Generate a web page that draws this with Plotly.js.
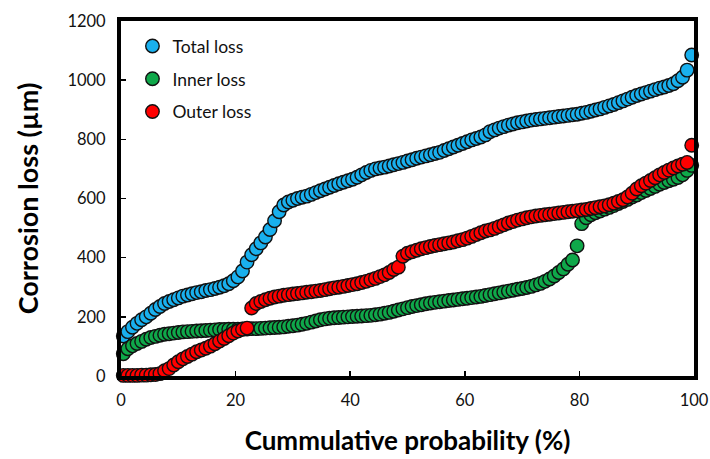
<!DOCTYPE html>
<html>
<head>
<meta charset="utf-8">
<script src="https://cdn.plot.ly/plotly-3.0.1.min.js"></script>
<style>
  html, body { margin: 0; padding: 0; background: #fff; }
  #chart { width: 710px; height: 459px; }
</style>
</head>
<body>
<div id="chart"></div>
<script>
// Cumulative probability (%) of each ranked measurement
const probability = [
  0.4, 1.2, 2.0, 2.8, 3.6, 4.4, 5.2, 6.0, 6.8, 7.6,
  8.4, 9.2, 10.0, 10.8, 11.6, 12.4, 13.2, 14.0, 14.8, 15.6,
  16.4, 17.2, 18.0, 18.8, 19.6, 20.4, 21.2, 22.0, 22.8, 23.6,
  24.4, 25.2, 26.0, 26.8, 27.6, 28.4, 29.2, 30.0, 30.8, 31.6,
  32.4, 33.2, 34.0, 34.8, 35.6, 36.4, 37.2, 38.0, 38.8, 39.6,
  40.4, 41.2, 42.0, 42.8, 43.6, 44.4, 45.2, 46.0, 46.8, 47.6,
  48.4, 49.2, 50.0, 50.8, 51.6, 52.4, 53.2, 54.0, 54.8, 55.6,
  56.4, 57.2, 58.0, 58.8, 59.6, 60.4, 61.2, 62.0, 62.8, 63.6,
  64.4, 65.2, 66.0, 66.8, 67.6, 68.4, 69.2, 70.0, 70.8, 71.6,
  72.4, 73.2, 74.0, 74.8, 75.6, 76.4, 77.2, 78.0, 78.8, 79.6,
  80.4, 81.2, 82.0, 82.8, 83.6, 84.4, 85.2, 86.0, 86.8, 87.6,
  88.4, 89.2, 90.0, 90.8, 91.6, 92.4, 93.2, 94.0, 94.8, 95.6,
  96.4, 97.2, 98.0, 98.8, 99.6
];

// Corrosion loss (µm), sorted ascending
const totalLoss = [
  135, 150, 165, 178, 190, 200, 212, 225, 235, 245,
  252, 258, 264, 270, 274, 278, 282, 285, 289, 292,
  296, 300, 305, 312, 322, 335, 355, 385, 410, 430,
  450, 470, 495, 525, 555, 578, 588, 594, 600, 604,
  608, 614, 620, 626, 632, 638, 644, 650, 655, 660,
  665, 672, 680, 688, 695, 700, 703, 706, 710, 714,
  718, 722, 727, 731, 736, 740, 744, 748, 752, 756,
  762, 768, 774, 780, 786, 792, 798, 803, 808, 815,
  826, 832, 838, 843, 848, 852, 856, 859, 862, 865,
  867, 869, 871, 873, 875, 877, 879, 881, 883, 885,
  888, 891, 895, 899, 903, 908, 913, 918, 924, 930,
  936, 942, 948, 953, 958, 963, 968, 973, 977, 982,
  988, 998, 1010, 1034, 1085
];

const innerLoss = [
  75, 92, 102, 110, 117, 124, 130, 134, 138, 141,
  143, 145, 147, 149, 150, 151, 152, 153, 154, 155,
  156, 157, 157, 158, 158, 158, 159, 159, 160, 160,
  161, 162, 163, 164, 165, 166, 168, 170, 172, 175,
  178, 182, 186, 190, 193, 195, 197, 198, 199, 200,
  201, 202, 203, 204, 205, 207, 209, 212, 215, 219,
  223, 227, 231, 235, 238, 241, 244, 247, 249, 251,
  253, 255, 257, 259, 261, 263, 265, 267, 269, 272,
  275, 278, 281, 284, 287, 290, 293, 296, 299, 303,
  308, 313, 320, 328, 338, 350, 362, 378, 392, 440,
  515, 535, 545, 552, 558, 564, 570, 576, 583, 590,
  597, 605, 612, 620, 627, 634, 641, 648, 654, 660,
  665, 671, 680, 695, 712
];

const outerLoss = [
  2, 2, 2, 2, 3, 3, 4, 5, 8, 18,
  25, 37, 48, 58, 66, 74, 82, 88, 94, 101,
  109, 118, 127, 136, 145, 152, 158, 162, 230, 245,
  252, 258, 263, 267, 270, 273, 275, 277, 279, 281,
  283, 285, 287, 289, 292, 295, 298, 300, 303, 306,
  309, 312, 316, 320, 325, 330, 336, 342, 350, 360,
  368, 405, 415, 420, 425, 430, 434, 438, 441, 444,
  447, 450, 453, 457, 461, 466, 472, 478, 484, 490,
  494, 499, 505, 511, 517, 522, 527, 531, 535, 538,
  541, 543, 545, 547, 549, 551, 553, 555, 557, 559,
  561, 563, 566, 569, 572, 575, 579, 584, 590, 596,
  605, 618, 632, 643, 652, 661, 670, 680, 688, 696,
  703, 710, 716, 722, 780
];

const seriesNames = ['Total loss', 'Inner loss', 'Outer loss'];
const seriesColors = ['#19b0ee', '#0fa84a', '#ff0000'];
const seriesValues = [totalLoss, innerLoss, outerLoss];

const FONT = 'Lato, "Open Sans", "Liberation Sans", sans-serif';

const traces = seriesValues.map((vals, i) => ({
  type: 'scatter',
  mode: 'markers',
  name: seriesNames[i],
  legendgroup: 'g' + i,
  x: probability,
  y: vals,
  cliponaxis: false,
  marker: {
    size: 13.5,
    color: seriesColors[i],
    line: { color: '#111', width: 1.4 }
  },
  hoverinfo: 'x+y'
}));

const axisCommon = {
  showgrid: false,
  zeroline: false,
  showline: true,
  linecolor: '#000',
  linewidth: 4,
  mirror: true,
  ticks: 'inside',
  ticklen: 5,
  tickwidth: 1.5,
  tickcolor: '#000',
  tickfont: { family: FONT, size: 16.5, color: '#111' }
};

const layout = {
  width: 710,
  height: 459,
  margin: { l: 121, r: 16, t: 21, b: 83 },
  paper_bgcolor: '#fff',
  plot_bgcolor: '#fff',
  showlegend: true,
  legend: {
    x: 0.02, y: 0.98,
    xanchor: 'left', yanchor: 'top',
    bgcolor: 'rgba(0,0,0,0)',
    font: { family: FONT, size: 17.5, color: '#111' },
    tracegroupgap: 7,
    itemwidth: 30
  },
  xaxis: Object.assign({}, axisCommon, {
    range: [0, 100],
    dtick: 20,
    tick0: 0,
    ticklabelstandoff: 6,
    title: {
      text: 'Cummulative probability (%)',
      font: { family: FONT, size: 26, color: '#000', weight: 'bold' },
      standoff: 24
    }
  }),
  yaxis: Object.assign({}, axisCommon, {
    range: [0, 1200],
    dtick: 200,
    tick0: 0,
    ticklabelstandoff: 8,
    title: {
      text: 'Corrosion loss (µm)',
      font: { family: FONT, size: 27, color: '#000', weight: 'bold' },
      standoff: 22
    }
  })
};

Plotly.newPlot('chart', traces, layout, { displayModeBar: false, staticPlot: true });
</script>
</body>
</html>
